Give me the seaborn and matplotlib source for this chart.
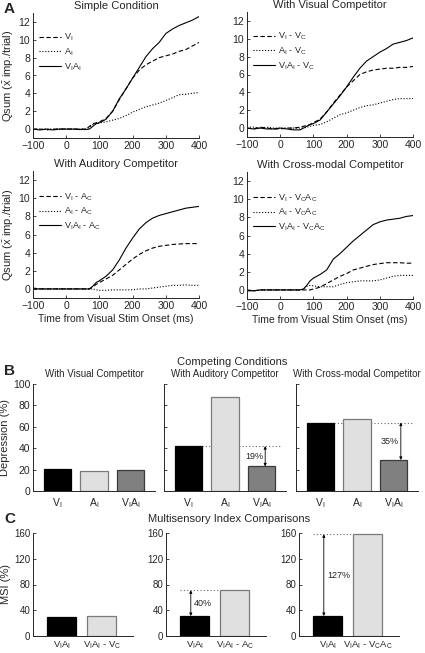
import pandas as pd
import seaborn as sns
import matplotlib.pyplot as plt

# ---- data ----
t = [-100, -80, -60, -40, -20, 0, 20, 40, 60, 70, 80, 90, 100, 120, 140, 160,
     180, 200, 220, 240, 260, 280, 300, 320, 340, 360, 380, 400]

simple_v = [0, 0, -0.1, 0, 0, 0, 0, 0, 0, 0.3, 0.6, 0.7, 0.8, 1.2, 2.0, 3.3,
            4.5, 5.7, 6.6, 7.2, 7.6, 8.0, 8.2, 8.4, 8.7, 8.9, 9.3, 9.7]
simple_a = [0, 0, 0, 0, 0, 0, 0, 0, 0, 0.2, 0.5, 0.6, 0.7, 0.8, 1.0, 1.2,
            1.5, 1.9, 2.2, 2.5, 2.7, 2.9, 3.2, 3.5, 3.85, 3.9, 4.0, 4.1]
simple_va = [0, -0.1, 0, -0.1, 0, 0, 0, -0.05, -0.05, 0, 0.3, 0.6, 0.7, 1.1, 2.0, 3.4,
             4.5, 5.7, 6.9, 8.1, 9.0, 9.7, 10.7, 11.2, 11.6, 11.9, 12.2, 12.6]

vis_v = [0, -0.1, 0.1, 0, -0.1, -0.1, 0, 0, 0.1, 0.2, 0.3, 0.4, 0.6, 1.0, 1.8, 2.8,
         3.7, 4.6, 5.3, 6.0, 6.3, 6.5, 6.6, 6.7, 6.7, 6.8, 6.8, 6.9]
vis_a = [0.1, 0.1, 0, 0.1, 0, 0, 0, 0, 0, 0, 0.1, 0.2, 0.3, 0.4, 0.7, 1.1,
         1.5, 1.7, 2.0, 2.3, 2.5, 2.6, 2.8, 3.0, 3.2, 3.3, 3.3, 3.3]
vis_va = [0, -0.1, 0, -0.1, -0.1, 0, -0.1, -0.2, -0.2, 0, 0.2, 0.4, 0.5, 0.9, 1.8, 2.7,
          3.6, 4.6, 5.7, 6.7, 7.5, 8.0, 8.5, 8.9, 9.4, 9.6, 9.8, 10.1]

aud_v = [0.1, 0, 0, 0, 0, 0, 0, 0, 0, 0, 0.2, 0.5, 0.7, 1.1, 1.5, 2.1,
         2.7, 3.3, 3.8, 4.2, 4.5, 4.7, 4.8, 4.9, 4.95, 5.0, 5.0, 5.0]
aud_a = [0, 0, 0, 0, 0, 0, 0, 0, 0, 0, 0, -0.1, -0.15, -0.15, -0.1, -0.1,
         -0.1, -0.1, 0, 0, 0.1, 0.2, 0.3, 0.4, 0.4, 0.45, 0.4, 0.4]
aud_va = [0, 0, 0, 0, 0, 0, 0, 0, 0, 0, 0.3, 0.7, 0.9, 1.4, 2.1, 3.2,
          4.5, 5.6, 6.6, 7.3, 7.8, 8.1, 8.3, 8.5, 8.7, 8.9, 9.0, 9.1]

cm_v = [-0.1, -0.1, 0, 0, 0, 0, 0, 0, 0, 0, 0, 0, 0.1, 0.3, 0.7, 1.1,
        1.5, 1.8, 2.2, 2.4, 2.6, 2.8, 2.9, 3.0, 3.0, 3.0, 2.95, 2.95]
cm_a = [0, -0.1, 0, 0, 0, 0, 0, 0, 0, 0.1, 0.4, 0.5, 0.45, 0.35, 0.35, 0.35,
        0.6, 0.8, 0.9, 1.0, 1.0, 1.0, 1.1, 1.3, 1.5, 1.6, 1.6, 1.6]
cm_va = [0, -0.1, 0, 0, 0, 0, 0, 0, 0, 0.1, 0.5, 1.0, 1.3, 1.7, 2.2, 3.4,
         4.0, 4.7, 5.4, 6.0, 6.6, 7.2, 7.5, 7.7, 7.8, 7.9, 8.1, 8.2]

line_titles = ["Simple Condition", "With Visual Competitor",
               "With Auditory Competitor", "With Cross-modal Competitor"]
line_labels = [
    ["V$_I$", "A$_I$", "V$_I$A$_I$"],
    ["V$_I$ - V$_C$", "A$_I$ - V$_C$", "V$_I$A$_I$ - V$_C$"],
    ["V$_I$ - A$_C$", "A$_I$ - A$_C$", "V$_I$A$_I$ - A$_C$"],
    ["V$_I$ - V$_C$A$_C$", "A$_I$ - V$_C$A$_C$", "V$_I$A$_I$ - V$_C$A$_C$"],
]
line_values = [
    [simple_v, simple_a, simple_va],
    [vis_v, vis_a, vis_va],
    [aud_v, aud_a, aud_va],
    [cm_v, cm_a, cm_va],
]

bar_cats = ["V$_I$", "A$_I$", "V$_I$A$_I$"]
dep_titles = ["With Visual Competitor", "With Auditory Competitor",
              "With Cross-modal Competitor"]
dep_values = [[21, 19, 20], [42, 88, 23], [64, 67, 29]]

msi_cats = [["V$_I$A$_I$", "V$_I$A$_I$ - V$_C$"],
            ["V$_I$A$_I$", "V$_I$A$_I$ - A$_C$"],
            ["V$_I$A$_I$", "V$_I$A$_I$ - V$_C$A$_C$"]]
msi_values = [[30, 31], [31, 71], [31, 158]]

# ---- style ----
sns.set_style("ticks")
plt.rcParams["font.family"] = ["Liberation Sans", "DejaVu Sans"]
plt.rcParams["mathtext.default"] = "regular"
plt.rcParams["axes.linewidth"] = 0.7
plt.rcParams["xtick.direction"] = "in"
plt.rcParams["ytick.direction"] = "in"

W, H = 425, 653
fig = plt.figure(figsize=(W / 100, H / 100), dpi=100)


def box(l, top, r, b):
    return [l / W, 1 - b / H, (r - l) / W, (b - top) / H]


def tidy(ax, fs=7.5):
    sns.despine(ax=ax)
    ax.tick_params(labelsize=fs, length=2.5, width=0.6, pad=2)


# ---- panel A ----
a_boxes = [(33, 13, 199, 138), (247, 12, 413, 137),
           (33, 171, 199, 298), (247, 172, 413, 299)]
styles = ["d", "o", "s"]
dashes = {"d": (4, 2.2), "o": (1, 1.6), "s": ""}
for i, (bx, title, labels, vals) in enumerate(zip(a_boxes, line_titles, line_labels, line_values)):
    ax = fig.add_axes(box(*bx))
    df = pd.DataFrame({
        "t": t * 3,
        "q": vals[0] + vals[1] + vals[2],
        "s": [styles[0]] * len(t) + [styles[1]] * len(t) + [styles[2]] * len(t),
    })
    sns.lineplot(data=df, x="t", y="q", style="s", dashes=dashes, color="k",
                 linewidth=0.8, ax=ax, legend=False)
    for ln, lab in zip(ax.get_lines(), labels):
        ln.set_label(lab)
    ax.legend(loc="upper left", bbox_to_anchor=(0.0, 0.9), frameon=False,
              fontsize=6.5, handlelength=2.4, labelspacing=0.25,
              handletextpad=0.3, borderaxespad=0.3)
    ax.set_xlim(-100, 400)
    ax.set_ylim(-1, 13)
    ax.set_xticks(range(-100, 401, 100))
    ax.set_yticks(range(0, 13, 2))
    ax.set_title(title, fontsize=8, pad=3)
    ax.set_xlabel("Time from Visual Stim Onset (ms)" if i >= 2 else "", fontsize=7.5, labelpad=2)
    ax.set_ylabel(r"Qsum ($\bar{x}$ imp./trial)" if i % 2 == 0 else "", fontsize=8, labelpad=2)
    tidy(ax)

fig.text(4 / W, 1 - 9 / H, "A", fontsize=11, fontweight="bold", va="center")

# ---- panel B ----
fig.text(232 / W, 1 - 362 / H, "Competing Conditions", fontsize=8, ha="center", va="center")
fig.text(4 / W, 1 - 371 / H, "B", fontsize=11, fontweight="bold", va="center")
bar_colors = ["#000000", "#e0e0e0", "#808080"]
edge_colors = ["#000000", "#7a7a7a", "#3a3a3a"]
b_lefts = [33, 164, 296]
for i, (l, title, vals) in enumerate(zip(b_lefts, dep_titles, dep_values)):
    ax = fig.add_axes(box(l, 384, l + 122, 491))
    sns.barplot(x=bar_cats, y=vals, hue=bar_cats, palette=bar_colors, width=0.75,
                legend=False, ax=ax, linewidth=0.9)
    for p, ec in zip(ax.patches, edge_colors):
        p.set_edgecolor(ec)
    ax.set_xlim(-0.67, 2.67)
    ax.set_ylim(0, 100)
    ax.set_yticks(range(0, 101, 20))
    ax.set_title(title, fontsize=7, pad=5)
    if i == 0:
        ax.set_ylabel("Depression (%)", fontsize=8, labelpad=2)
    else:
        ax.set_yticklabels([])
    tidy(ax)
    ax.tick_params(axis="x", length=0, pad=4)
    if i > 0:
        ref = vals[0]
        ax.hlines(ref, 0.375, 2.55, colors="#666666", linestyles=(0, (1, 2)), linewidth=0.8, zorder=0)
        xa = 2.1 if i == 1 else 2.2
        ax.annotate("", xy=(xa, vals[2]), xytext=(xa, ref),
                    arrowprops=dict(arrowstyle="<|-|>", lw=0.6, color="k",
                                    mutation_scale=4, shrinkA=0, shrinkB=0))
        ax.text(xa - 0.05, (ref + vals[2]) / 2, f"{ref - vals[2]}%", fontsize=6.5,
                ha="right", va="center")

# ---- panel C ----
fig.text(229 / W, 1 - 519 / H, "Multisensory Index Comparisons", fontsize=8, ha="center", va="center")
fig.text(4 / W, 1 - 519 / H, "C", fontsize=11, fontweight="bold", va="center")
c_lefts = [33, 166, 299]
for i, (l, cats, vals) in enumerate(zip(c_lefts, msi_cats, msi_values)):
    ax = fig.add_axes(box(l, 533, l + 100, 636))
    sns.barplot(x=cats, y=vals, hue=cats, palette=bar_colors[:2], width=0.72,
                legend=False, ax=ax, linewidth=0.9)
    for p, ec in zip(ax.patches, edge_colors[:2]):
        p.set_edgecolor(ec)
    ax.set_xlim(-0.72, 1.78)
    ax.set_ylim(0, 160)
    ax.set_yticks(range(0, 161, 40))
    if i == 0:
        ax.set_ylabel("MSI (%)", fontsize=8, labelpad=2)
    tidy(ax, fs=7)
    ax.tick_params(axis="x", length=0, pad=1.5, labelsize=6.8)
    if i > 0:
        top = vals[1]
        ax.hlines(top, -0.36, 0.64, colors="#666666", linestyles=(0, (1, 2)), linewidth=0.8, zorder=0)
        xa = -0.1
        ax.annotate("", xy=(xa, vals[0]), xytext=(xa, top),
                    arrowprops=dict(arrowstyle="<|-|>", lw=0.6, color="k",
                                    mutation_scale=4, shrinkA=0, shrinkB=0))
        ax.text(xa + 0.08, (top + vals[0]) / 2, f"{top - vals[0]}%", fontsize=6.5,
                ha="left", va="center")

fig.savefig("out.png", dpi=100)
plt.close(fig)
